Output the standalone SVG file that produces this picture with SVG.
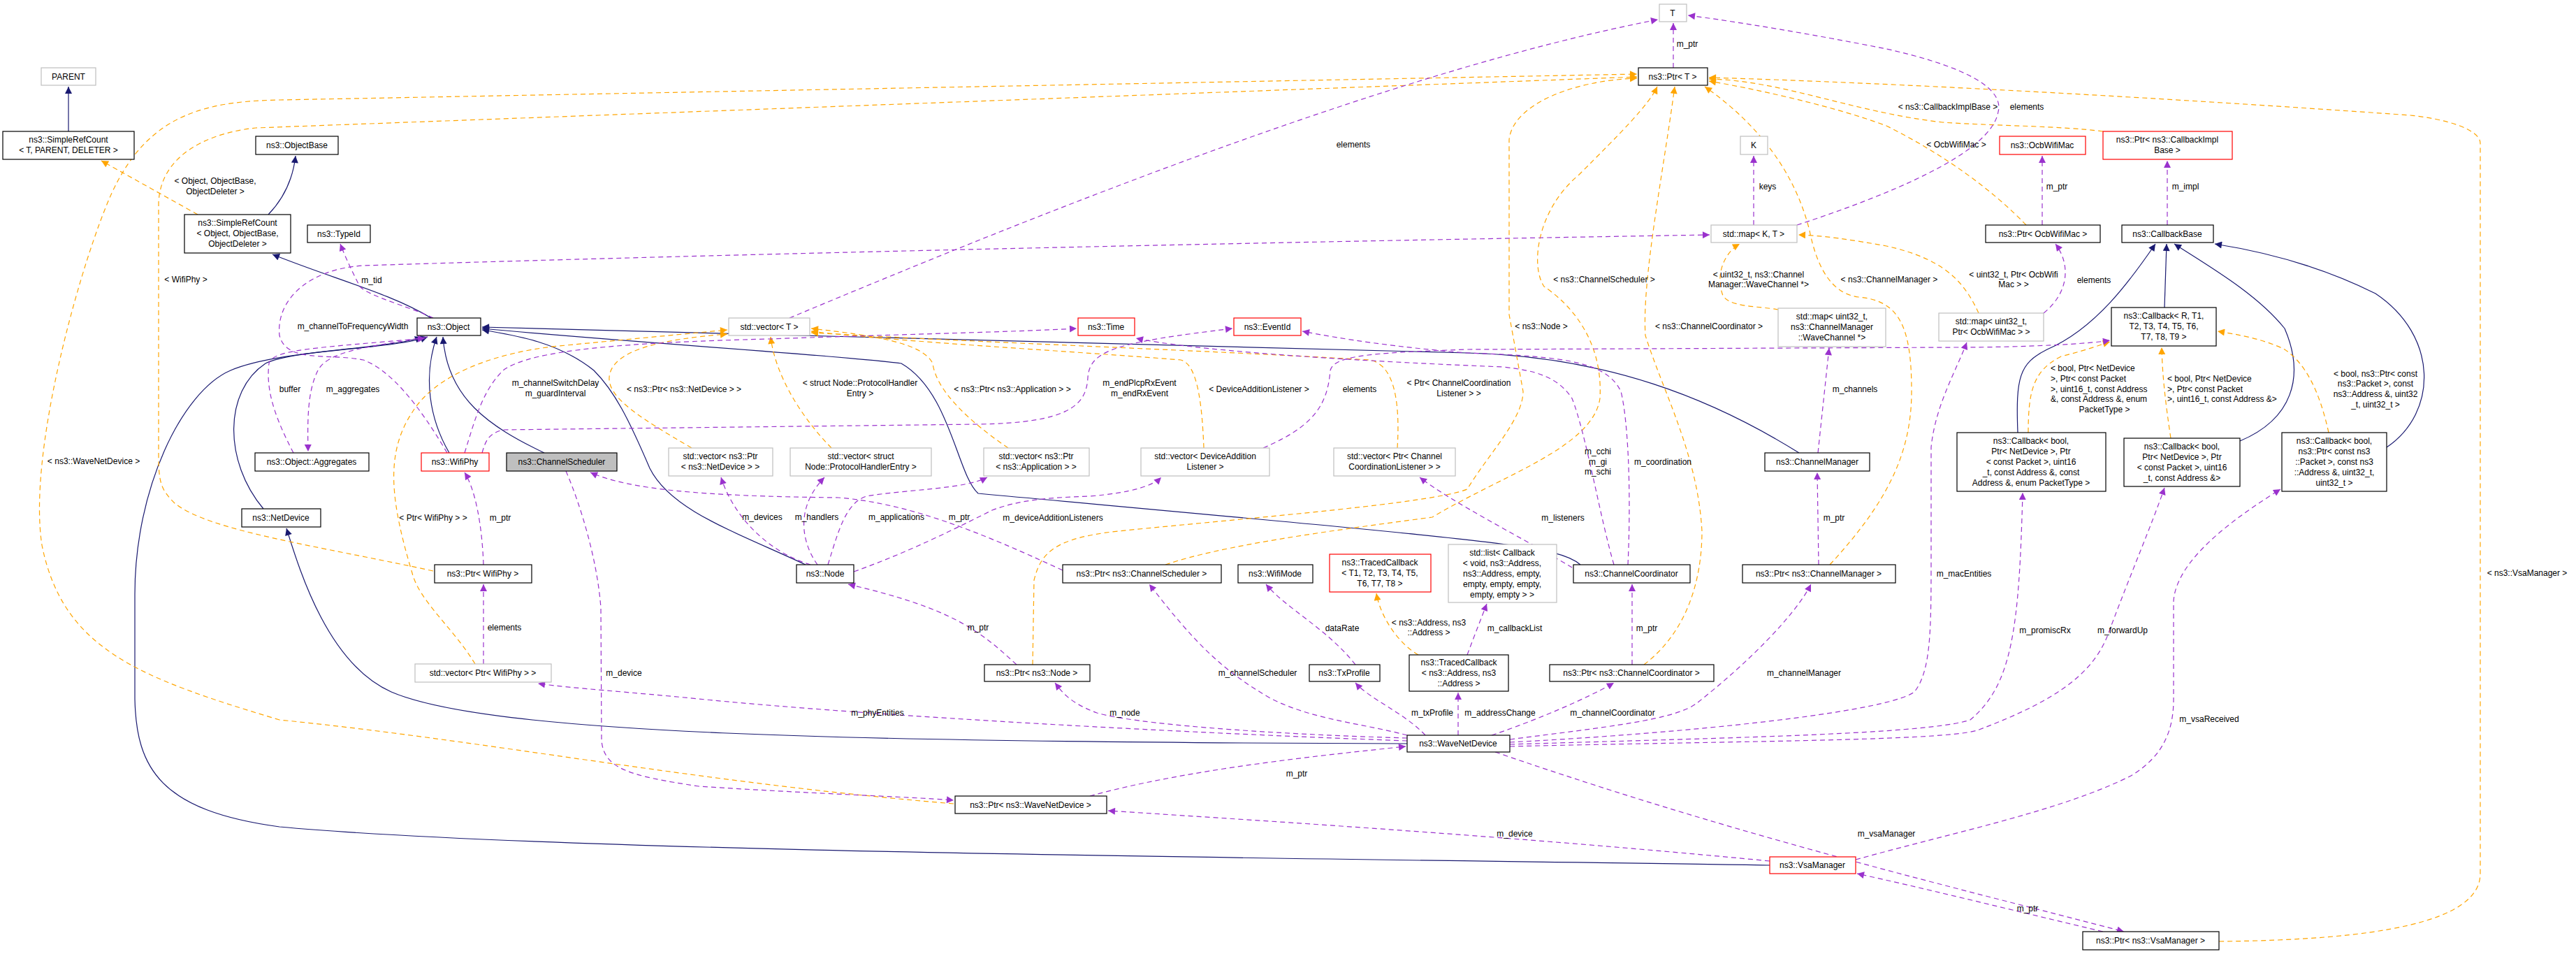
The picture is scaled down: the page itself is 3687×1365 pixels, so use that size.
<svg xmlns="http://www.w3.org/2000/svg" width="3687" height="1365" viewBox="0 0 3687 1365">
<style>
text{font-family:"Liberation Sans Narrow","Liberation Sans",Arial,sans-serif;font-size:12px;fill:#000;text-anchor:middle}
.s{text-anchor:start}
.b{fill:#fff;stroke:#000;stroke-width:1.2}
.g{fill:#fff;stroke:#bfbfbf;stroke-width:1.2}
.r{fill:#fff;stroke:#ff0000;stroke-width:1.2}
.f{fill:#bfbfbf;stroke:#000;stroke-width:1.2}
.i{fill:none;stroke:#191970;stroke-width:1.2;marker-end:url(#mi)}
.u{fill:none;stroke:#9a32cd;stroke-width:1.2;stroke-dasharray:7,5;marker-end:url(#mu)}
.t{fill:none;stroke:#ffa500;stroke-width:1.2;stroke-dasharray:7,5;marker-end:url(#mt)}
</style>
<defs>
<marker id="mi" viewBox="0 0 10 10" refX="10" refY="5" markerWidth="12" markerHeight="10" markerUnits="userSpaceOnUse" orient="auto"><path d="M0,0L10,5L0,10z" fill="#191970"/></marker>
<marker id="mu" viewBox="0 0 10 10" refX="10" refY="5" markerWidth="12" markerHeight="10" markerUnits="userSpaceOnUse" orient="auto"><path d="M0,0L10,5L0,10z" fill="#9a32cd"/></marker>
<marker id="mt" viewBox="0 0 10 10" refX="10" refY="5" markerWidth="12" markerHeight="10" markerUnits="userSpaceOnUse" orient="auto"><path d="M0,0L10,5L0,10z" fill="#ffa500"/></marker>
</defs>
<rect width="3687" height="1365" fill="#fff"/>
<g id="connectors">
<path class="i" d="M98,188 L98,124"/>
<path class="i" d="M384,307 C410,280 420,250 423,223"/>
<path class="i" d="M617,455 C560,420 480,400 390,364"/>
<path class="i" d="M377,728 C320,660 320,560 380,520 C420,500 560,500 612,482"/>
<path class="i" d="M643,648 C615,600 605,540 625,482"/>
<path class="i" d="M779,648 C700,610 640,570 634,482"/>
<path class="i" d="M1153,808 C1050,760 960,730 930,670 C900,600 880,560 850,530 C800,490 740,480 690,472"/>
<path class="i" d="M2262,808 C2230,780 2150,775 1400,706 C1370,680 1360,560 1290,520 C1200,508 900,490 690,470"/>
<path class="i" d="M2575,648 C2450,570 2300,510 2100,505 L690,468"/>
<path class="i" d="M2014,1064 C1200,1062 700,1050 560,990 C470,950 430,820 410,756"/>
<path class="i" d="M2533,1238 C1900,1228 800,1220 400,1183 C230,1160 195,1100 193,1000 L193,850 C193,700 260,560 330,530 C400,500 560,500 604,482"/>
<path class="i" d="M3098,440 L3101,349"/>
<path class="i" d="M2888,619 C2885,540 2890,520 2930,500 C3000,470 3050,400 3085,349"/>
<path class="i" d="M3206,631 C3280,600 3300,540 3270,470 C3230,420 3160,380 3112,349"/>
<path class="i" d="M3416,640 C3490,590 3490,480 3400,420 C3320,380 3240,360 3170,349"/>

<path class="t" d="M283,307 L145,230"/>
<path class="t" d="M620,817 C450,780 300,760 250,720 C230,700 227,690 227,650 L227,290 C230,220 300,190 366,183 L2343,110"/>
<path class="t" d="M1365,1150 C1000,1120 700,1060 400,1030 C200,970 90,930 60,780 C40,650 110,400 150,300 C200,170 280,145 400,143 L2343,106"/>
<path class="t" d="M680,950 C650,900 600,860 590,820 C560,720 550,650 590,590 C620,540 700,505 800,495 L1041,472"/>
<path class="t" d="M990,641 C920,600 870,570 872,540 C875,500 950,485 1041,478"/>
<path class="t" d="M1190,641 C1150,600 1110,540 1103,482"/>
<path class="t" d="M1443,641 C1390,605 1340,560 1335,520 C1320,490 1250,480 1161,470"/>
<path class="t" d="M1723,641 C1720,560 1710,520 1690,515 C1500,500 1300,490 1161,474"/>
<path class="t" d="M2000,641 C2005,560 1990,520 1960,515 C1700,500 1400,490 1161,476"/>
<path class="t" d="M1668,808 C1750,780 1900,760 2050,740 C2150,680 2280,640 2290,570 C2295,480 2240,430 2210,410 C2190,380 2200,300 2260,250 C2320,190 2360,150 2372,124"/>
<path class="t" d="M1478,951 L1480,830 C1490,790 1510,770 1600,760 C1800,740 2050,720 2100,700 C2130,650 2180,600 2180,560 L2160,450 L2160,200 C2165,150 2250,115 2343,112"/>
<path class="t" d="M2353,951 C2420,900 2436,820 2436,760 C2430,650 2380,560 2355,480 C2350,400 2380,250 2397,124"/>
<path class="t" d="M2619,808 C2700,720 2736,650 2736,560 C2736,470 2720,430 2660,425 C2620,420 2600,380 2590,330 C2570,250 2520,180 2440,124"/>
<path class="t" d="M2545,443 C2520,438 2470,440 2465,420 C2455,390 2470,360 2490,349"/>
<path class="t" d="M2832,448 C2810,400 2780,370 2700,352 C2650,343 2610,337 2574,336"/>
<path class="t" d="M2900,322 C2850,270 2780,220 2700,180 C2620,150 2500,125 2446,116"/>
<path class="t" d="M3010,188 C2950,180 2850,180 2780,175 C2650,160 2550,115 2446,113"/>
<path class="t" d="M3176,1347 C3400,1345 3550,1320 3550,1250 L3550,205 C3550,185 3500,170 3450,165 C3100,140 2700,118 2446,111"/>
<path class="t" d="M2030,937 C2000,920 1975,880 1970,849"/>
<path class="t" d="M2903,619 C2903,560 2910,530 2950,510 C2990,500 3010,492 3020,489"/>
<path class="t" d="M3107,627 C3100,580 3095,540 3094,497"/>
<path class="t" d="M3333,619 C3320,560 3300,520 3270,500 C3240,485 3200,478 3174,474"/>

<path class="u" d="M620,455 C590,440 530,425 515,410 C505,390 495,370 487,349"/>
<path class="u" d="M612,482 C540,495 470,500 455,530 C440,560 440,600 441,646"/>
<path class="u" d="M420,648 C395,600 380,560 385,520 C390,500 450,498 608,484"/>
<path class="u" d="M640,648 C600,580 560,530 520,515 C470,505 410,520 400,480 C395,430 440,385 520,380 C900,368 1600,350 2447,336"/>
<path class="u" d="M665,648 C680,600 690,560 720,530 C760,500 900,490 1100,485 C1300,478 1450,475 1541,470"/>
<path class="u" d="M690,648 C695,630 700,620 720,615 L1400,607 C1530,605 1555,580 1557,540 C1560,500 1600,490 1764,470"/>
<path class="u" d="M1808,641 C1880,610 1900,580 1904,530 C1910,510 1950,505 2100,500 L2800,497 C2900,497 2990,492 3020,487"/>
<path class="u" d="M1521,816 C1400,760 1300,720 1200,712 C1000,710 900,700 845,676"/>
<path class="u" d="M810,674 C830,720 855,800 860,870 L861,1060 C865,1100 900,1110 1000,1125 C1150,1135 1300,1140 1365,1145"/>
<path class="u" d="M1160,808 C1100,790 1050,740 1032,683"/>
<path class="u" d="M1170,808 C1150,780 1135,730 1180,683"/>
<path class="u" d="M1185,808 C1200,760 1210,720 1240,710 C1300,700 1380,700 1413,683"/>
<path class="u" d="M1222,818 C1300,790 1360,760 1420,730 C1460,715 1500,712 1560,710 C1620,705 1650,695 1662,683"/>
<path class="u" d="M1455,951 C1400,900 1360,870 1214,836"/>
<path class="u" d="M2250,812 C2180,770 2080,720 2032,683"/>
<path class="u" d="M2310,808 C2290,740 2270,620 2250,570 C2230,540 2200,530 2150,525 C1900,515 1700,500 1626,484"/>
<path class="u" d="M2330,808 C2335,700 2330,600 2320,560 C2300,520 2250,510 2100,505 C2000,497 1920,485 1864,474"/>
<path class="u" d="M2602,648 L2618,498"/>
<path class="u" d="M2603,808 L2601,676"/>
<path class="u" d="M2336,951 L2336,836"/>
<path class="u" d="M2510,322 L2510,223"/>
<path class="u" d="M2572,322 C2700,280 2850,220 2860,160 C2870,120 2790,90 2700,70 C2600,50 2480,30 2416,22"/>
<path class="u" d="M1130,455 C1500,300 2000,100 2373,28"/>
<path class="u" d="M2925,448 C2960,420 2965,380 2942,349"/>
<path class="u" d="M2923,322 L2923,223"/>
<path class="u" d="M3102,322 L3102,230"/>
<path class="u" d="M2395,97 L2395,33"/>
<path class="u" d="M2040,1052 C2010,1020 1960,1000 1940,977"/>
<path class="u" d="M2087,1052 L2087,991"/>
<path class="u" d="M2135,1052 C2200,1030 2270,1000 2310,977"/>
<path class="u" d="M2161,1058 C2300,1040 2400,1030 2430,1005 C2500,950 2570,880 2592,836"/>
<path class="u" d="M2161,1062 C2400,1050 2700,1020 2740,990 C2764,960 2764,900 2764,800 L2764,640 C2770,580 2800,530 2815,490"/>
<path class="u" d="M2161,1065 C2500,1055 2760,1050 2820,1030 C2880,980 2890,900 2895,705"/>
<path class="u" d="M2161,1068 C2500,1060 2780,1060 2830,1045 C2950,1000 3000,960 3020,900 C3050,820 3080,750 3098,698"/>
<path class="u" d="M2140,1076 C2500,1200 2800,1270 3040,1333"/>
<path class="u" d="M2014,1060 C1600,1045 1200,1020 1000,1000 C900,990 820,985 770,978"/>
<path class="u" d="M2014,1056 C1800,1050 1620,1035 1570,1020 C1530,1005 1520,990 1510,977"/>
<path class="u" d="M2014,1052 C1950,1035 1880,1030 1820,1000 C1750,960 1710,920 1645,836"/>
<path class="u" d="M1560,1139 C1700,1100 1900,1080 2012,1068"/>
<path class="u" d="M2533,1232 C2200,1200 1900,1180 1586,1160"/>
<path class="u" d="M2656,1230 C2800,1190 2950,1160 3050,1110 C3100,1080 3111,1040 3111,1000 L3111,860 C3115,800 3200,740 3264,700"/>
<path class="u" d="M3010,1333 C2850,1295 2750,1270 2658,1250"/>
<path class="u" d="M1940,951 C1900,900 1840,870 1812,836"/>
<path class="u" d="M2100,937 C2110,910 2120,885 2128,864"/>
<path class="u" d="M692,808 C690,750 680,700 665,676"/>
<path class="u" d="M692,950 L692,836"/>

<text x="308" y="263">&lt; Object, ObjectBase,</text><text x="308" y="278">ObjectDeleter &gt;</text>
<text x="266" y="404">&lt; WifiPhy &gt;</text>
<text x="134" y="664">&lt; ns3::WaveNetDevice &gt;</text>
<text x="620" y="745">&lt; Ptr&lt; WifiPhy &gt; &gt;</text>
<text x="979" y="561">&lt; ns3::Ptr&lt; ns3::NetDevice &gt; &gt;</text>
<text x="1231" y="552">&lt; struct Node::ProtocolHandler</text><text x="1231" y="567">Entry &gt;</text>
<text x="1449" y="561">&lt; ns3::Ptr&lt; ns3::Application &gt; &gt;</text>
<text x="1802" y="561">&lt; DeviceAdditionListener &gt;</text>
<text x="2088" y="552">&lt; Ptr&lt; ChannelCoordination</text><text x="2088" y="567">Listener &gt; &gt;</text>
<text x="2296" y="404">&lt; ns3::ChannelScheduler &gt;</text>
<text x="2517" y="397">&lt; uint32_t, ns3::Channel</text><text x="2517" y="411">Manager::WaveChannel *&gt;</text>
<text x="2704" y="404">&lt; ns3::ChannelManager &gt;</text>
<text x="2206" y="471">&lt; ns3::Node &gt;</text>
<text x="2446" y="471">&lt; ns3::ChannelCoordinator &gt;</text>
<text x="2788" y="157">&lt; ns3::CallbackImplBase &gt;</text>
<text x="2901" y="157">elements</text>
<text x="2800" y="211">&lt; OcbWifiMac &gt;</text>
<text x="2882" y="397">&lt; uint32_t, Ptr&lt; OcbWifi</text><text x="2882" y="411">Mac &gt; &gt;</text>
<text x="2997" y="405">elements</text>
<text x="2944" y="271">m_ptr</text>
<text x="3128" y="271">m_impl</text>
<text x="2415" y="67">m_ptr</text>
<text x="2530" y="271">keys</text>
<text x="1937" y="211">elements</text>
<text x="3617" y="824">&lt; ns3::VsaManager &gt;</text>
<text x="2045" y="895">&lt; ns3::Address, ns3</text><text x="2045" y="909">::Address &gt;</text>
<text x="2168" y="903">m_callbackList</text>
<text x="1921" y="903">dataRate</text>
<text x="2357" y="903">m_ptr</text>
<text class="s" x="2935" y="531">&lt; bool, Ptr&lt; NetDevice</text><text class="s" x="2935" y="546">&gt;, Ptr&lt; const Packet</text><text class="s" x="2935" y="561">&gt;, uint16_t, const Address</text><text class="s" x="2935" y="575">&amp;, const Address &amp;, enum</text><text x="3012" y="590">PacketType &gt;</text>
<text class="s" x="3102" y="546">&lt; bool, Ptr&lt; NetDevice</text><text class="s" x="3102" y="561">&gt;, Ptr&lt; const Packet</text><text class="s" x="3102" y="575">&gt;, uint16_t, const Address &amp;&gt;</text>
<text x="3400" y="539">&lt; bool, ns3::Ptr&lt; const</text><text x="3400" y="553">ns3::Packet &gt;, const</text><text x="3400" y="568">ns3::Address &amp;, uint32</text><text x="3400" y="583">_t, uint32_t &gt;</text>
<text x="2927" y="906">m_promiscRx</text>
<text x="3038" y="906">m_forwardUp</text>
<text x="3162" y="1033">m_vsaReceived</text>
<text x="2902" y="1304">m_ptr</text>
<text x="2050" y="1024">m_txProfile</text>
<text x="2147" y="1024">m_addressChange</text>
<text x="2308" y="1024">m_channelCoordinator</text>
<text x="2582" y="967">m_channelManager</text>
<text x="2168" y="1197">m_device</text>
<text x="2700" y="1197">m_vsaManager</text>
<text x="2811" y="825">m_macEntities</text>
<text x="1256" y="1024">m_phyEntities</text>
<text x="1610" y="1024">m_node</text>
<text x="1800" y="967">m_channelScheduler</text>
<text x="1856" y="1111">m_ptr</text>
<text x="893" y="967">m_device</text>
<text x="722" y="902">elements</text>
<text x="1400" y="902">m_ptr</text>
<text x="716" y="745">m_ptr</text>
<text x="1091" y="744">m_devices</text>
<text x="1169" y="744">m_handlers</text>
<text x="1283" y="744">m_applications</text>
<text x="1373" y="744">m_ptr</text>
<text x="1631" y="552">m_endPlcpRxEvent</text><text x="1631" y="567">m_endRxEvent</text>
<text x="1507" y="745">m_deviceAdditionListeners</text>
<text x="1946" y="561">elements</text>
<text x="795" y="552">m_channelSwitchDelay</text><text x="795" y="567">m_guardInterval</text>
<text x="505" y="471">m_channelToFrequencyWidth</text>
<text x="532" y="405">m_tid</text>
<text x="505" y="561">m_aggregates</text>
<text x="415" y="561">buffer</text>
<text x="2287" y="650">m_cchi</text><text x="2287" y="665">m_gi</text><text x="2287" y="679">m_schi</text>
<text x="2380" y="665">m_coordination</text>
<text x="2655" y="561">m_channels</text>
<text x="2625" y="745">m_ptr</text>
<text x="2237" y="745">m_listeners</text>
</g>
<g id="n_PARENT"><rect class="g" x="59" y="97" width="78" height="25"/><text x="98" y="114">PARENT</text></g>
<g id="n_SRCT"><rect class="b" x="4" y="188" width="188" height="40"/><text x="98" y="204">ns3::SimpleRefCount</text><text x="98" y="219">&lt; T, PARENT, DELETER &gt;</text></g>
<g id="n_ObjectBase"><rect class="b" x="366" y="195" width="118" height="26"/><text x="425" y="212">ns3::ObjectBase</text></g>
<g id="n_SRCO"><rect class="b" x="264" y="307" width="152" height="55"/><text x="340" y="323">ns3::SimpleRefCount</text><text x="340" y="338">&lt; Object, ObjectBase,</text><text x="340" y="353">ObjectDeleter &gt;</text></g>
<g id="n_TypeId"><rect class="b" x="440" y="322" width="90" height="25"/><text x="485" y="339">ns3::TypeId</text></g>
<g id="n_Object"><rect class="b" x="597" y="455" width="91" height="25"/><text x="642" y="472">ns3::Object</text></g>
<g id="n_Aggregates"><rect class="b" x="365" y="648" width="163" height="26"/><text x="446" y="665">ns3::Object::Aggregates</text></g>
<g id="n_WifiPhy"><rect class="r" x="603" y="648" width="97" height="26"/><text x="651" y="665">ns3::WifiPhy</text></g>
<g id="n_ChannelScheduler"><rect class="f" x="725" y="648" width="158" height="26"/><text x="804" y="665">ns3::ChannelScheduler</text></g>
<g id="n_NetDevice"><rect class="b" x="346" y="728" width="113" height="26"/><text x="402" y="745">ns3::NetDevice</text></g>
<g id="n_PtrWifiPhy"><rect class="b" x="622" y="808" width="139" height="26"/><text x="691" y="825">ns3::Ptr&lt; WifiPhy &gt;</text></g>
<g id="n_vecT"><rect class="g" x="1043" y="455" width="116" height="25"/><text x="1101" y="472">std::vector&lt; T &gt;</text></g>
<g id="n_vecND"><rect class="g" x="957" y="641" width="149" height="40"/><text x="1031" y="657">std::vector&lt; ns3::Ptr</text><text x="1031" y="672">&lt; ns3::NetDevice &gt; &gt;</text></g>
<g id="n_vecPH"><rect class="g" x="1131" y="641" width="202" height="40"/><text x="1232" y="657">std::vector&lt; struct</text><text x="1232" y="672">Node::ProtocolHandlerEntry &gt;</text></g>
<g id="n_Node"><rect class="b" x="1140" y="808" width="82" height="26"/><text x="1181" y="825">ns3::Node</text></g>
<g id="n_Time"><rect class="r" x="1543" y="455" width="81" height="25"/><text x="1583" y="472">ns3::Time</text></g>
<g id="n_EventId"><rect class="r" x="1766" y="455" width="96" height="25"/><text x="1814" y="472">ns3::EventId</text></g>
<g id="n_vecApp"><rect class="g" x="1408" y="641" width="151" height="40"/><text x="1483" y="657">std::vector&lt; ns3::Ptr</text><text x="1483" y="672">&lt; ns3::Application &gt; &gt;</text></g>
<g id="n_vecDAL"><rect class="g" x="1633" y="641" width="184" height="40"/><text x="1725" y="657">std::vector&lt; DeviceAddition</text><text x="1725" y="672">Listener &gt;</text></g>
<g id="n_vecCCL"><rect class="g" x="1909" y="641" width="174" height="40"/><text x="1996" y="657">std::vector&lt; Ptr&lt; Channel</text><text x="1996" y="672">CoordinationListener &gt; &gt;</text></g>
<g id="n_PtrCS"><rect class="b" x="1521" y="808" width="227" height="26"/><text x="1634" y="825">ns3::Ptr&lt; ns3::ChannelScheduler &gt;</text></g>
<g id="n_WifiMode"><rect class="b" x="1772" y="808" width="107" height="26"/><text x="1825" y="825">ns3::WifiMode</text></g>
<g id="n_TC8"><rect class="r" x="1903" y="793" width="145" height="54"/><text x="1975" y="809">ns3::TracedCallback</text><text x="1975" y="824">&lt; T1, T2, T3, T4, T5,</text><text x="1975" y="839">T6, T7, T8 &gt;</text></g>
<g id="n_list"><rect class="g" x="2073" y="779" width="155" height="83"/><text x="2150" y="795">std::list&lt; Callback</text><text x="2150" y="810">&lt; void, ns3::Address,</text><text x="2150" y="825">ns3::Address, empty,</text><text x="2150" y="840">empty, empty, empty,</text><text x="2150" y="855">empty, empty &gt; &gt;</text></g>
<g id="n_T"><rect class="g" x="2375" y="6" width="39" height="25"/><text x="2394" y="23">T</text></g>
<g id="n_PtrT"><rect class="b" x="2345" y="97" width="99" height="25"/><text x="2394" y="114">ns3::Ptr&lt; T &gt;</text></g>
<g id="n_K"><rect class="g" x="2491" y="195" width="39" height="26"/><text x="2510" y="212">K</text></g>
<g id="n_mapKT"><rect class="g" x="2449" y="322" width="123" height="25"/><text x="2510" y="339">std::map&lt; K, T &gt;</text></g>
<g id="n_mapWC"><rect class="g" x="2545" y="441" width="154" height="55"/><text x="2622" y="457">std::map&lt; uint32_t,</text><text x="2622" y="472">ns3::ChannelManager</text><text x="2622" y="487">::WaveChannel *&gt;</text></g>
<g id="n_OcbWifiMac"><rect class="r" x="2862" y="195" width="123" height="26"/><text x="2923" y="212">ns3::OcbWifiMac</text></g>
<g id="n_PtrCIB"><rect class="r" x="3010" y="188" width="185" height="40"/><text x="3102" y="204">ns3::Ptr&lt; ns3::CallbackImpl</text><text x="3102" y="219">Base &gt;</text></g>
<g id="n_PtrOcb"><rect class="b" x="2842" y="322" width="164" height="25"/><text x="2924" y="339">ns3::Ptr&lt; OcbWifiMac &gt;</text></g>
<g id="n_CallbackBase"><rect class="b" x="3037" y="322" width="131" height="25"/><text x="3102" y="339">ns3::CallbackBase</text></g>
<g id="n_mapOcb"><rect class="g" x="2775" y="448" width="150" height="40"/><text x="2850" y="464">std::map&lt; uint32_t,</text><text x="2850" y="479">Ptr&lt; OcbWifiMac &gt; &gt;</text></g>
<g id="n_CbR"><rect class="b" x="3022" y="440" width="150" height="55"/><text x="3097" y="456">ns3::Callback&lt; R, T1,</text><text x="3097" y="471">T2, T3, T4, T5, T6,</text><text x="3097" y="486">T7, T8, T9 &gt;</text></g>
<g id="n_CbPT"><rect class="b" x="2801" y="619" width="213" height="84"/><text x="2907" y="635">ns3::Callback&lt; bool,</text><text x="2907" y="650">Ptr&lt; NetDevice &gt;, Ptr</text><text x="2907" y="665">&lt; const Packet &gt;, uint16</text><text x="2907" y="680">_t, const Address &amp;, const</text><text x="2907" y="695">Address &amp;, enum PacketType &gt;</text></g>
<g id="n_CbA"><rect class="b" x="3040" y="627" width="166" height="69"/><text x="3123" y="643">ns3::Callback&lt; bool,</text><text x="3123" y="658">Ptr&lt; NetDevice &gt;, Ptr</text><text x="3123" y="673">&lt; const Packet &gt;, uint16</text><text x="3123" y="688">_t, const Address &amp;&gt;</text></g>
<g id="n_CbV"><rect class="b" x="3266" y="619" width="150" height="84"/><text x="3341" y="635">ns3::Callback&lt; bool,</text><text x="3341" y="650">ns3::Ptr&lt; const ns3</text><text x="3341" y="665">::Packet &gt;, const ns3</text><text x="3341" y="680">::Address &amp;, uint32_t,</text><text x="3341" y="695">uint32_t &gt;</text></g>
<g id="n_ChannelManager"><rect class="b" x="2526" y="648" width="150" height="26"/><text x="2601" y="665">ns3::ChannelManager</text></g>
<g id="n_ChannelCoordinator"><rect class="b" x="2252" y="808" width="167" height="26"/><text x="2335" y="825">ns3::ChannelCoordinator</text></g>
<g id="n_PtrCM"><rect class="b" x="2494" y="808" width="219" height="26"/><text x="2603" y="825">ns3::Ptr&lt; ns3::ChannelManager &gt;</text></g>
<g id="n_TxProfile"><rect class="b" x="1874" y="951" width="101" height="24"/><text x="1924" y="967">ns3::TxProfile</text></g>
<g id="n_TCA"><rect class="b" x="2017" y="937" width="142" height="52"/><text x="2088" y="952">ns3::TracedCallback</text><text x="2088" y="967">&lt; ns3::Address, ns3</text><text x="2088" y="982">::Address &gt;</text></g>
<g id="n_PtrCC"><rect class="b" x="2218" y="951" width="235" height="24"/><text x="2335" y="967">ns3::Ptr&lt; ns3::ChannelCoordinator &gt;</text></g>
<g id="n_WaveNetDevice"><rect class="b" x="2014" y="1052" width="147" height="24"/><text x="2087" y="1068">ns3::WaveNetDevice</text></g>
<g id="n_VsaManager"><rect class="r" x="2533" y="1226" width="123" height="24"/><text x="2594" y="1242">ns3::VsaManager</text></g>
<g id="n_vecPW"><rect class="g" x="594" y="950" width="195" height="26"/><text x="691" y="967">std::vector&lt; Ptr&lt; WifiPhy &gt; &gt;</text></g>
<g id="n_PtrNode"><rect class="b" x="1409" y="951" width="151" height="24"/><text x="1484" y="967">ns3::Ptr&lt; ns3::Node &gt;</text></g>
<g id="n_PtrWND"><rect class="b" x="1367" y="1139" width="217" height="25"/><text x="1475" y="1156">ns3::Ptr&lt; ns3::WaveNetDevice &gt;</text></g>
<g id="n_PtrVsa"><rect class="b" x="2981" y="1333" width="195" height="26"/><text x="3078" y="1350">ns3::Ptr&lt; ns3::VsaManager &gt;</text></g>
</svg>
